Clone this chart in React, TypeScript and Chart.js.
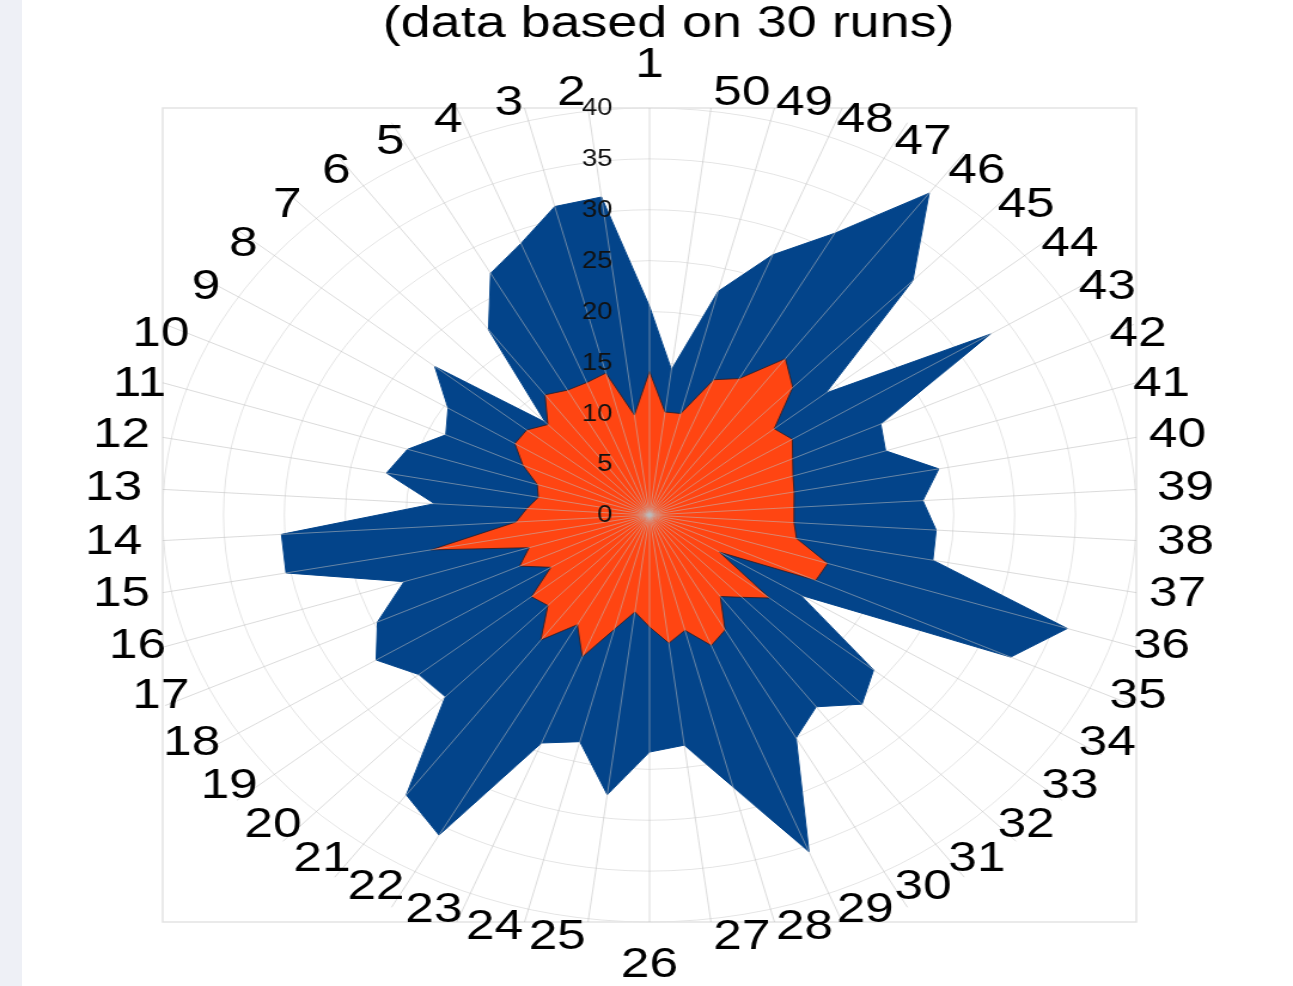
import React, { useEffect, useRef } from "react";
import { Chart, registerables } from "chart.js";

Chart.register(...registerables);

// ---- data (label order 1..50, drawn counter-clockwise from the top) ----
const categories: string[] = [
  "1", "2", "3", "4", "5", "6", "7", "8", "9", "10",
  "11", "12", "13", "14", "15", "16", "17", "18", "19", "20",
  "21", "22", "23", "24", "25", "26", "27", "28", "29", "30",
  "31", "32", "33", "34", "35", "36", "37", "38", "39", "40",
  "41", "42", "43", "44", "45", "46", "47", "48", "49", "50",
];

const outerSeries: number[] = [
  20.5, 31.5, 31.3, 28.7, 27.1, 22.5, 12.5, 22.9, 19.6, 18.5,
  20.9, 22.0, 17.7, 30.3, 30.4, 21.2, 24.7, 26.6, 24.6, 24.5,
  34.0, 35.9, 24.1, 23.0, 27.7, 23.3, 22.8, 27.6, 35.6, 25.0,
  23.3, 25.5, 23.9, 14.7, 32.8, 36.1, 23.7, 23.6, 22.5, 24.2,
  20.4, 21.0, 33.2, 18.8, 31.6, 39.1, 31.6, 27.5, 22.7, 14.4,
];

const innerSeries: number[] = [
  14.1, 9.9, 14.4, 14.0, 14.0, 14.6, 12.2, 13.1, 13.1, 11.5,
  9.7, 9.3, 10.1, 11.0, 18.3, 10.4, 11.8, 9.6, 12.6, 12.2,
  15.2, 12.3, 15.0, 11.6, 9.6, 11.0, 12.7, 11.7, 13.8, 12.9,
  9.9, 11.1, 12.8, 6.8, 15.1, 15.4, 12.3, 11.9, 11.9, 12.1,
  12.4, 13.0, 13.9, 13.3, 17.2, 19.0, 15.3, 14.3, 10.3, 10.2,
];

const tickValues = { min: 0, max: 40, step: 5 };
const titleText = "(data based on 30 runs)";

// ---- layout / style ----
const CANVAS_W = 1081;
const CANVAS_H = 986;
const STRETCH = 1293 / CANVAS_W;
const FONT = '"Liberation Sans", Arial, Helvetica, sans-serif';

// Chart.js goes clockwise; the reference goes counter-clockwise.
const order = categories.map((_, i) => (i === 0 ? 0 : categories.length - i));
const chartLabels = order.map((i) => categories[i]);
const chartOuter = order.map((i) => outerSeries[i]);
const chartInner = order.map((i) => innerSeries[i]);

const overlayPlugin = {
  id: "overlay",
  beforeDatasetsDraw(chart: any) {
    const { ctx, chartArea } = chart;
    ctx.save();
    ctx.strokeStyle = "#e3e3e3";
    ctx.lineWidth = 1.5;
    ctx.strokeRect(chartArea.left, chartArea.top, chartArea.right - chartArea.left, chartArea.bottom - chartArea.top);
    ctx.restore();
  },
  afterDatasetsDraw(chart: any) {
    const { ctx, chartArea } = chart;
    const scale = chart.scales.r;
    const n = chart.data.labels.length;
    const xc = scale.xCenter;
    const yc = scale.yCenter;
    const R = scale.drawingArea;

    // spokes, over the filled areas, slightly past the outer ring, clipped to the frame
    ctx.save();
    ctx.beginPath();
    ctx.rect(chartArea.left, chartArea.top, chartArea.right - chartArea.left, chartArea.bottom - chartArea.top);
    ctx.clip();
    ctx.strokeStyle = "rgba(190,190,190,0.55)";
    ctx.lineWidth = 1;
    for (let i = 0; i < n; i++) {
      const p = scale.getPointPosition(i, R * 1.1);
      ctx.beginPath();
      ctx.moveTo(xc, yc);
      ctx.lineTo(p.x, p.y);
      ctx.stroke();
    }
    ctx.restore();

    // radial tick labels
    ctx.save();
    ctx.fillStyle = "#111";
    ctx.font = `23px ${FONT}`;
    ctx.textAlign = "right";
    ctx.textBaseline = "middle";
    scale.ticks.forEach((tk: any) => {
      const d = scale.getDistanceFromCenterForValue(tk.value);
      ctx.fillText(String(tk.label), xc - 31, yc - d + 1);
    });
    ctx.restore();

    // point labels
    ctx.save();
    ctx.fillStyle = "#000";
    ctx.font = `43px ${FONT}`;
    ctx.textBaseline = "middle";
    for (let i = 0; i < n; i++) {
      const p = scale.getPointPosition(i, R + 18);
      const deg = Math.round((scale.getIndexAngle(i) * 180) / Math.PI) % 360;
      let align: CanvasTextAlign = "center";
      let y = p.y;
      if (deg === 0) y -= 25;
      else if (deg === 180) y += 25;
      else align = deg < 180 ? "left" : "right";
      ctx.textAlign = align;
      ctx.fillText(String(chart.data.labels[i]), p.x, y);
    }
    ctx.restore();

    // title
    ctx.save();
    ctx.fillStyle = "#000";
    ctx.font = `45px ${FONT}`;
    ctx.textAlign = "center";
    ctx.textBaseline = "alphabetic";
    ctx.fillText(titleText, 559, 37);
    ctx.restore();
  },
};

export default function App() {
  const ref = useRef<HTMLCanvasElement | null>(null);

  useEffect(() => {
    const canvas = ref.current;
    if (!canvas) return;
    const chart = new Chart(canvas, {
      type: "radar",
      data: {
        labels: chartLabels,
        datasets: [
          {
            label: "inner",
            data: chartInner,
            backgroundColor: "#ff4512",
            borderColor: "rgba(45,30,40,0.85)",
            borderWidth: 1,
            fill: true,
            pointRadius: 0,
            pointHoverRadius: 0,
            tension: 0,
          },
          {
            label: "outer",
            data: chartOuter,
            backgroundColor: "#03448a",
            borderColor: "#03448a",
            borderWidth: 1,
            fill: true,
            pointRadius: 0,
            pointHoverRadius: 0,
            tension: 0,
          },
        ],
      },
      options: {
        responsive: false,
        animation: false,
        layout: { padding: { left: 136, right: CANVAS_W - 950, top: 108, bottom: CANVAS_H - 922 } },
        plugins: {
          legend: { display: false },
          tooltip: { enabled: false },
          title: { display: false },
        },
        scales: {
          r: {
            min: tickValues.min,
            max: tickValues.max,
            ticks: { display: false, stepSize: tickValues.step },
            pointLabels: { display: false },
            angleLines: { display: false },
            grid: { circular: true, color: "rgba(0,0,0,0.11)", lineWidth: 1 },
          },
        },
      },
      plugins: [overlayPlugin],
    });
    return () => chart.destroy();
  }, []);

  return (
    <div style={{ position: "fixed", left: 0, top: 0, width: 1293, height: 986, overflow: "hidden", background: "#fff" }}>
      <div style={{ position: "absolute", left: 0, top: 0, width: 22, height: 986, background: "#eef0f6" }} />
      <div
        style={{
          position: "absolute",
          left: 0,
          top: 0,
          width: CANVAS_W,
          height: CANVAS_H,
          transform: `scaleX(${STRETCH})`,
          transformOrigin: "0 0",
        }}
      >
        <canvas ref={ref} width={CANVAS_W} height={CANVAS_H} style={{ width: CANVAS_W, height: CANVAS_H, display: "block" }} />
      </div>
    </div>
  );
}
